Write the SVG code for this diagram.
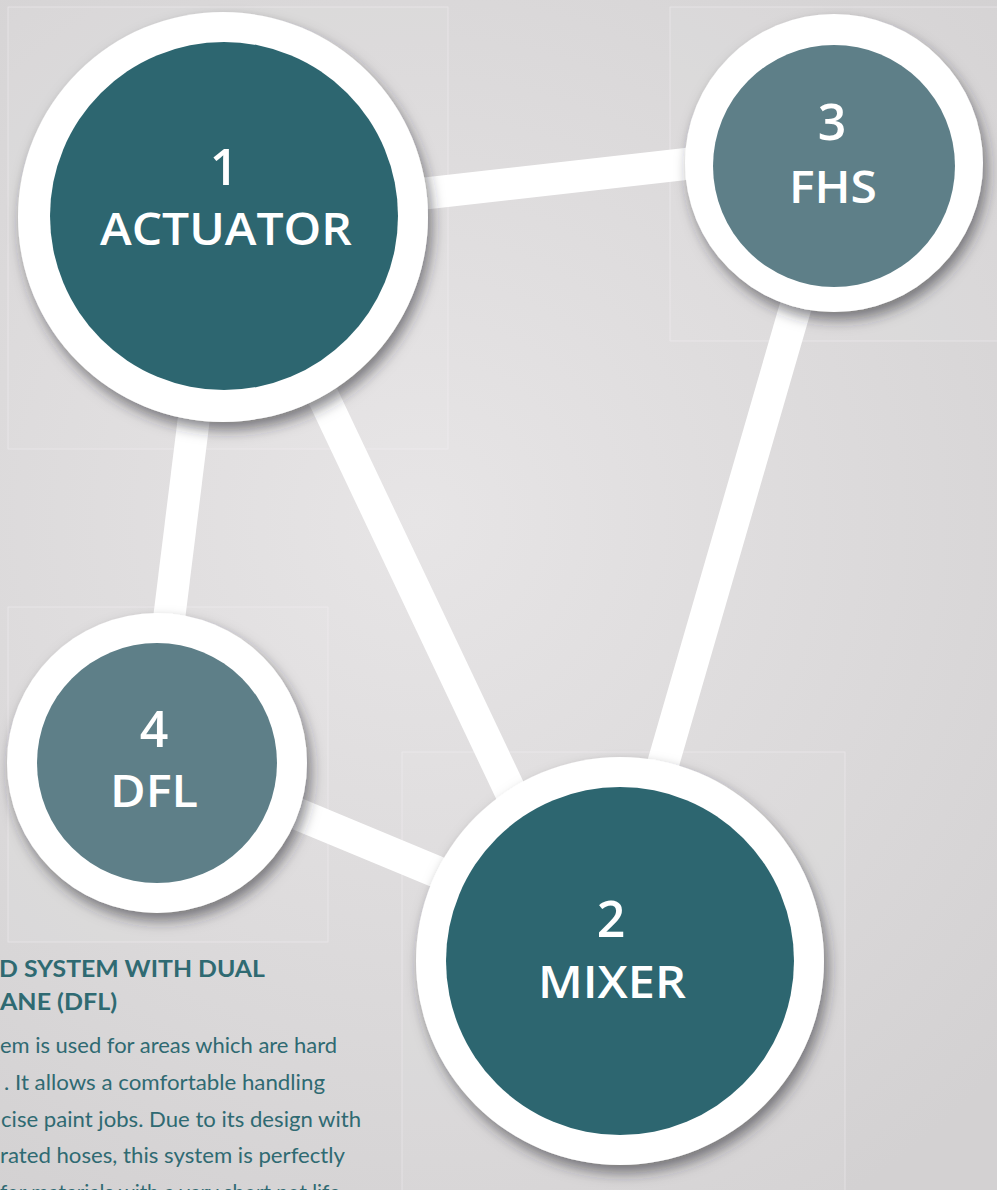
<svg xmlns="http://www.w3.org/2000/svg" width="997" height="1190" viewBox="0 0 997 1190">
<defs>
<radialGradient id="bg" cx="420" cy="520" r="800" gradientUnits="userSpaceOnUse">
<stop offset="0" stop-color="#e7e5e6"/>
<stop offset="1" stop-color="#d3d1d2"/>
</radialGradient>
<filter id="sh" x="-20%" y="-20%" width="150%" height="150%">
<feDropShadow dx="4" dy="8" stdDeviation="7" flood-color="#2a2a30" flood-opacity="0.55"/>
</filter>
<style>
.panel{fill:#ffffff;fill-opacity:0.05;stroke:#f4f2f3;stroke-opacity:0.45;stroke-width:1}
.conn{stroke:#ffffff;stroke-width:32;fill:none}
.ring{fill:#ffffff}
.dark{fill:#2d6670}
.light{fill:#5e7f88}
.num{font-family:"Open Sans","Noto Sans",sans-serif;font-weight:600;font-size:50px;fill:#ffffff;text-anchor:middle}
.lab{font-family:"Open Sans","Noto Sans",sans-serif;font-weight:600;font-size:46px;fill:#ffffff;text-anchor:middle}
.hd{font-family:Lato,"Liberation Sans",sans-serif;font-weight:700;font-size:23px;fill:#2f6a72}
.bd{font-family:Lato,"Liberation Sans",sans-serif;font-weight:400;font-size:21.5px;fill:#2f6a72}
</style>
</defs>
<rect width="997" height="1190" fill="url(#bg)"/>
<g id="panels">
<rect class="panel" x="8" y="7" width="440" height="442"/>
<rect class="panel" x="670" y="7" width="340" height="334"/>
<rect class="panel" x="8" y="607" width="320" height="335"/>
<rect class="panel" x="402" y="752" width="443" height="450"/>
</g>
<g id="connectors">
<line class="conn" x1="300" y1="207.6" x2="800" y2="151.1"/>
<line class="conn" x1="208.5" y1="300" x2="159" y2="700"/>
<line class="conn" x1="277.4" y1="300" x2="561.8" y2="900"/>
<line class="conn" x1="812" y1="250" x2="623.6" y2="900"/>
<line class="conn" x1="200" y1="773.5" x2="560" y2="923"/>
</g>
<g id="node1">
<circle class="ring" cx="223" cy="217" r="205" filter="url(#sh)"/>
<circle class="dark" cx="224" cy="216" r="174"/>
<text class="num" x="224" y="185">1</text>
<text class="lab" x="226" y="245" textLength="252" lengthAdjust="spacingAndGlyphs">ACTUATOR</text>
</g>
<g id="node3">
<circle class="ring" cx="834" cy="163" r="149" filter="url(#sh)"/>
<circle class="light" cx="834" cy="166" r="121"/>
<text class="num" x="832" y="140">3</text>
<text class="lab" x="833" y="203" textLength="88" lengthAdjust="spacingAndGlyphs">FHS</text>
</g>
<g id="node4">
<circle class="ring" cx="157" cy="763" r="150" filter="url(#sh)"/>
<circle class="light" cx="157" cy="763" r="120"/>
<text class="num" x="154" y="747">4</text>
<text class="lab" x="154" y="807" textLength="88" lengthAdjust="spacingAndGlyphs">DFL</text>
</g>
<g id="node2">
<circle class="ring" cx="620" cy="961" r="204" filter="url(#sh)"/>
<circle class="dark" cx="620" cy="961" r="174"/>
<text class="num" x="611" y="937">2</text>
<text class="lab" x="612" y="998" textLength="148" lengthAdjust="spacingAndGlyphs">MIXER</text>
</g>
<g id="description">
<text class="hd" x="-1" y="977" textLength="266" lengthAdjust="spacingAndGlyphs">D SYSTEM WITH DUAL</text>
<text class="hd" x="0" y="1010" textLength="117" lengthAdjust="spacingAndGlyphs">ANE (DFL)</text>
<text class="bd" x="0" y="1053" textLength="337" lengthAdjust="spacingAndGlyphs">em is used for areas which are hard</text>
<text class="bd" x="4" y="1090" textLength="321" lengthAdjust="spacingAndGlyphs">. It allows a comfortable handling</text>
<text class="bd" x="1" y="1127" textLength="360" lengthAdjust="spacingAndGlyphs">cise paint jobs. Due to its design with</text>
<text class="bd" x="0" y="1163" textLength="345" lengthAdjust="spacingAndGlyphs">rated hoses, this system is perfectly</text>
<text class="bd" x="0" y="1200" textLength="340" lengthAdjust="spacingAndGlyphs">for materials with a very short pot life</text>
</g>
</svg>
